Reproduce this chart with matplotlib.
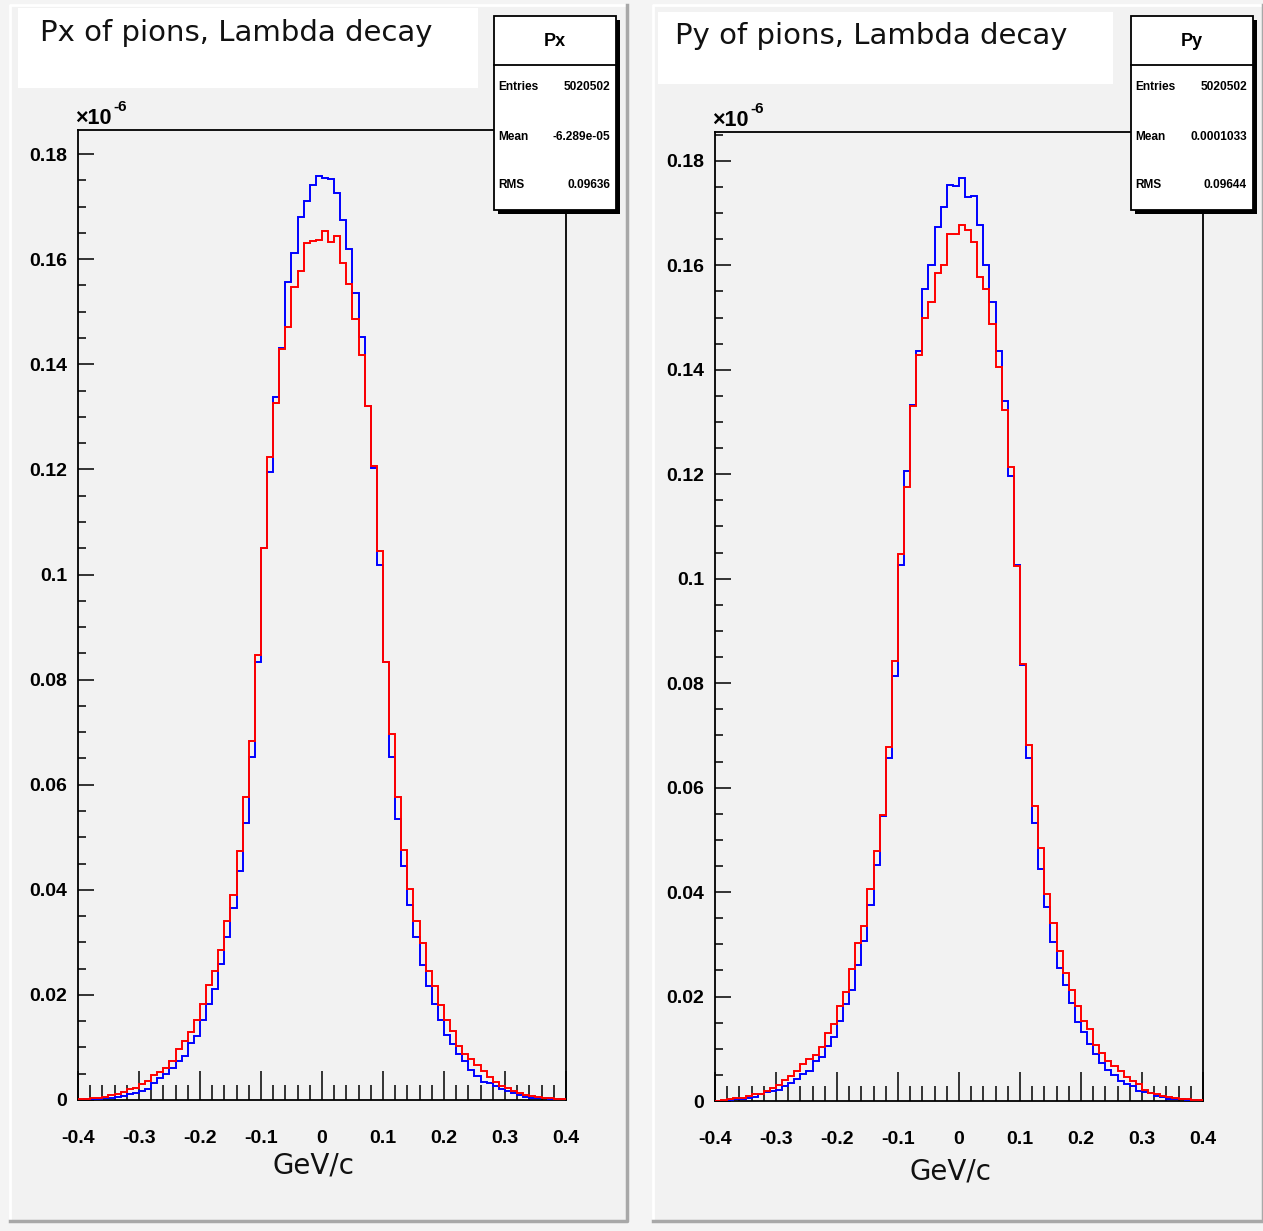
import matplotlib
matplotlib.use('Agg')
import matplotlib.pyplot as plt
import numpy as np
from matplotlib.patches import Rectangle
from matplotlib.lines import Line2D

# ── Data (bin contents in units of 1e-6, 80 bins from -0.4 to 0.4 GeV/c) ──
bin_edges = np.linspace(-0.4, 0.4, 81)

px_blue = [0.0000, 0.0001, 0.0002, 0.0002, 0.0003, 0.0004, 0.0006, 0.0008, 0.0011, 0.0014,
           0.0018, 0.0021, 0.0033, 0.0041, 0.0050, 0.0060, 0.0075, 0.0084, 0.0109, 0.0122,
           0.0152, 0.0182, 0.0212, 0.0258, 0.0311, 0.0366, 0.0436, 0.0528, 0.0653, 0.0834,
           0.1050, 0.1195, 0.1338, 0.1431, 0.1557, 0.1611, 0.1680, 0.1711, 0.1742, 0.1758,
           0.1755, 0.1752, 0.1726, 0.1674, 0.1619, 0.1535, 0.1452, 0.1320, 0.1203, 0.1018,
           0.0834, 0.0653, 0.0534, 0.0445, 0.0372, 0.0311, 0.0256, 0.0216, 0.0182, 0.0152,
           0.0124, 0.0106, 0.0088, 0.0075, 0.0057, 0.0046, 0.0035, 0.0032, 0.0027, 0.0020,
           0.0018, 0.0013, 0.0010, 0.0006, 0.0004, 0.0004, 0.0003, 0.0001, 0.0001, 0.0000]

px_red = [0.0001, 0.0002, 0.0003, 0.0004, 0.0006, 0.0009, 0.0012, 0.0016, 0.0020, 0.0022,
          0.0030, 0.0036, 0.0048, 0.0054, 0.0060, 0.0075, 0.0097, 0.0112, 0.0130, 0.0152,
          0.0182, 0.0219, 0.0246, 0.0286, 0.0341, 0.0390, 0.0474, 0.0577, 0.0684, 0.0846,
          0.1050, 0.1223, 0.1327, 0.1429, 0.1471, 0.1547, 0.1577, 0.1630, 0.1634, 0.1636,
          0.1654, 0.1633, 0.1644, 0.1593, 0.1552, 0.1486, 0.1418, 0.1320, 0.1206, 0.1044,
          0.0834, 0.0696, 0.0577, 0.0476, 0.0401, 0.0341, 0.0299, 0.0246, 0.0216, 0.0180,
          0.0152, 0.0131, 0.0103, 0.0088, 0.0078, 0.0067, 0.0056, 0.0043, 0.0035, 0.0027,
          0.0022, 0.0017, 0.0014, 0.0010, 0.0008, 0.0006, 0.0004, 0.0003, 0.0002, 0.0001]

py_blue = [0.0000, 0.0000, 0.0002, 0.0004, 0.0004, 0.0005, 0.0008, 0.0013, 0.0018, 0.0019,
           0.0022, 0.0029, 0.0035, 0.0043, 0.0051, 0.0058, 0.0077, 0.0084, 0.0105, 0.0123,
           0.0153, 0.0185, 0.0213, 0.0260, 0.0306, 0.0376, 0.0451, 0.0546, 0.0657, 0.0813,
           0.1027, 0.1207, 0.1332, 0.1436, 0.1555, 0.1601, 0.1674, 0.1712, 0.1753, 0.1752,
           0.1767, 0.1731, 0.1733, 0.1678, 0.1601, 0.1529, 0.1436, 0.1340, 0.1196, 0.1027,
           0.0834, 0.0657, 0.0532, 0.0445, 0.0371, 0.0305, 0.0255, 0.0223, 0.0187, 0.0152,
           0.0133, 0.0109, 0.0090, 0.0072, 0.0059, 0.0050, 0.0038, 0.0032, 0.0029, 0.0020,
           0.0018, 0.0016, 0.0010, 0.0007, 0.0004, 0.0003, 0.0003, 0.0002, 0.0001, 0.0000]

py_red = [0.0000, 0.0001, 0.0003, 0.0005, 0.0006, 0.0009, 0.0013, 0.0014, 0.0020, 0.0024,
          0.0030, 0.0040, 0.0048, 0.0057, 0.0070, 0.0080, 0.0088, 0.0104, 0.0131, 0.0147,
          0.0182, 0.0208, 0.0252, 0.0303, 0.0335, 0.0405, 0.0478, 0.0547, 0.0677, 0.0843,
          0.1048, 0.1176, 0.1330, 0.1428, 0.1500, 0.1530, 0.1585, 0.1601, 0.1660, 0.1660,
          0.1678, 0.1667, 0.1645, 0.1577, 0.1555, 0.1487, 0.1405, 0.1323, 0.1213, 0.1025,
          0.0836, 0.0681, 0.0565, 0.0484, 0.0396, 0.0341, 0.0287, 0.0245, 0.0212, 0.0181,
          0.0153, 0.0137, 0.0108, 0.0091, 0.0077, 0.0067, 0.0057, 0.0046, 0.0038, 0.0032,
          0.0022, 0.0016, 0.0014, 0.0010, 0.0008, 0.0006, 0.0004, 0.0003, 0.0001, 0.0001]

titles = ['Px of pions, Lambda decay', 'Py of pions, Lambda decay']
stat_names = ['Px', 'Py']
stat_entries = ['5020502', '5020502']
stat_means = ['-6.289e-05', '0.0001033']
stat_rms = ['0.09636', '0.09644']
x_ticks = [-0.4, -0.3, -0.2, -0.1, 0.0, 0.1, 0.2, 0.3, 0.4]
y_ticks = [0.0, 0.02, 0.04, 0.06, 0.08, 0.10, 0.12, 0.14, 0.16, 0.18]
x_label = 'GeV/c'

# ── Layout in pixels of the 1263x1231 canvas ──────────────────────────────
W, H = 1263, 1231
layout = [
    dict(pad=(10, 5, 627, 1221), title_box=(18, 8, 478, 88), title_xy=(40, 33),
         stats=(494, 16, 616, 210), axes=(78, 130, 566, 1100), xlabel_y=1166),
    dict(pad=(653, 5, 1263, 1221), title_box=(658, 12, 1113, 84), title_xy=(675, 36),
         stats=(1131, 16, 1253, 210), axes=(715, 132, 1203, 1101), xlabel_y=1172),
]
PAD_COLOR = '#f2f2f2'
TICK_FONT = 'Liberation Sans'


def fx(x):
    return x / W


def fy(y):
    return 1 - y / H


def add_rect(fig, x0, y0, x1, y1, **kw):
    fig.add_artist(Rectangle((fx(x0), fy(y1)), (x1 - x0) / W, (y1 - y0) / H,
                             transform=fig.transFigure, **kw))


def add_line(fig, xs, ys, **kw):
    fig.add_artist(Line2D([fx(x) for x in xs], [fy(y) for y in ys],
                          transform=fig.transFigure, **kw))


def draw_stats(fig, box, name, entries, mean, rms):
    x0, y0, x1, y1 = box
    add_rect(fig, x0 + 4, y0 + 4, x1 + 4, y1 + 4, facecolor='black', edgecolor='none', zorder=5)
    add_rect(fig, x0, y0, x1, y1, facecolor='white', edgecolor='black', linewidth=1.3, zorder=6)
    add_line(fig, [x0, x1], [y0 + 49, y0 + 49], color='black', linewidth=1.3, zorder=7)
    fig.text(fx((x0 + x1) / 2), fy(y0 + 26), name, ha='center', va='center',
             fontsize=13, fontweight='bold', family=TICK_FONT, zorder=8)
    for row_y, label, value in [(y0 + 71, 'Entries', entries),
                                (y0 + 121, 'Mean', mean),
                                (y0 + 169, 'RMS', rms)]:
        fig.text(fx(x0 + 4), fy(row_y), label, ha='left', va='center',
                 fontsize=8.6, fontweight='bold', family=TICK_FONT, zorder=8)
        fig.text(fx(x1 - 6), fy(row_y), value, ha='right', va='center',
                 fontsize=8.6, fontweight='bold', family=TICK_FONT, zorder=8)


def draw_panel(fig, spec, blue, red, title, name, entries, mean, rms):
    # pad background with ROOT-like bevel
    px0, py0, px1, py1 = spec['pad']
    add_rect(fig, px0, py0, px1, py1, facecolor=PAD_COLOR, edgecolor='none', zorder=-3)
    add_line(fig, [px0, px0, px1], [py1, py0, py0], color='white', linewidth=2, zorder=-2)
    add_line(fig, [px0, px1, px1], [py1, py1, py0], color='#a8a8a8', linewidth=2.5, zorder=-2)

    # title box
    tx0, ty0, tx1, ty1 = spec['title_box']
    add_rect(fig, tx0, ty0, tx1, ty1, facecolor='white', edgecolor='none', zorder=-1)
    fig.text(fx(spec['title_xy'][0]), fy(spec['title_xy'][1]), title, ha='left', va='center',
             fontsize=21, family='DejaVu Sans', color='#111111')

    # histogram axes
    ax0, ay0, ax1, ay1 = spec['axes']
    ax = fig.add_axes([fx(ax0), fy(ay1), (ax1 - ax0) / W, (ay1 - ay0) / H])
    ax.set_facecolor('none')
    ax.stairs(blue, bin_edges, baseline=0, color='#0000ff', linewidth=1.4, zorder=3)
    ax.stairs(red, bin_edges, baseline=0, color='#ff0000', linewidth=1.4, zorder=4)
    ax.set_xlim(-0.4, 0.4)
    ax.set_ylim(0, 1.05 * max(blue))

    for side in ax.spines.values():
        side.set_linewidth(1.3)
    ax.set_xticks(x_ticks, [f'{v:g}' for v in x_ticks],
                  fontsize=14, fontweight='bold', family=TICK_FONT)
    ax.set_yticks(y_ticks, [f'{v:g}' for v in y_ticks],
                  fontsize=14, fontweight='bold', family=TICK_FONT)
    ax.set_xticks(np.arange(-0.4, 0.401, 0.02), minor=True)
    ax.set_yticks(np.arange(0, 1.05 * max(blue), 0.005), minor=True)
    ax.tick_params(axis='x', which='major', direction='in', length=21, width=1.1, pad=21.5)
    ax.tick_params(axis='x', which='minor', direction='in', length=10.5, width=1.1)
    ax.tick_params(axis='y', which='major', direction='in', length=11.5, width=1.1, pad=8)
    ax.tick_params(axis='y', which='minor', direction='in', length=5.5, width=1.1)

    # exponent label above the y axis
    fig.text(fx(ax0 - 3), fy(ay0 - 12), '×10', ha='left', va='center',
             fontsize=15.5, fontweight='bold', family=TICK_FONT)
    fig.text(fx(ax0 + 35), fy(ay0 - 23), '-6', ha='left', va='center',
             fontsize=11, fontweight='bold', family=TICK_FONT)

    fig.text(fx((ax0 + ax1) / 2 - 8), fy(spec['xlabel_y']), x_label, ha='center', va='center',
             fontsize=20, family='DejaVu Sans', color='#111111')

    draw_stats(fig, spec['stats'], name, entries, mean, rms)


fig = plt.figure(figsize=(W / 100, H / 100), dpi=100, facecolor='#f4f4f4')

for i, (blue, red) in enumerate([(px_blue, px_red), (py_blue, py_red)]):
    draw_panel(fig, layout[i], blue, red, titles[i], stat_names[i],
               stat_entries[i], stat_means[i], stat_rms[i])

fig.savefig('out.png', dpi=100, facecolor=fig.get_facecolor())
